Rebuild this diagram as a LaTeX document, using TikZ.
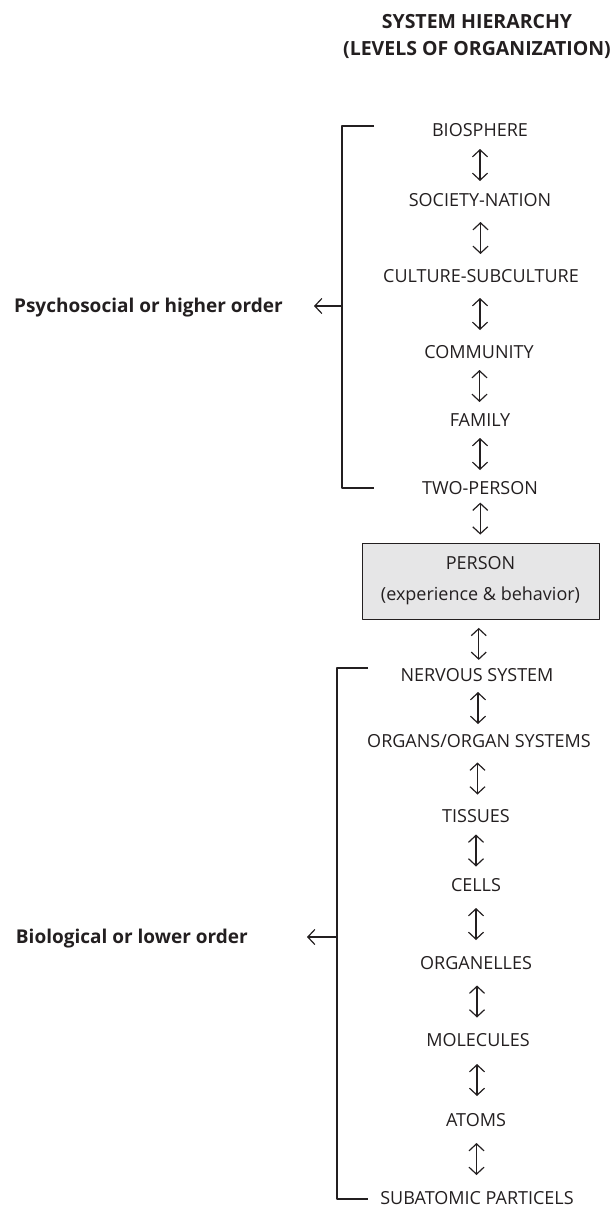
\documentclass[tikz,border=0pt]{standalone}
\usepackage{fontspec}
\setmainfont{Open Sans}
\usetikzlibrary{arrows.meta,calc}
\definecolor{ink}{HTML}{231F20}
\definecolor{boxgray}{HTML}{E6E6E7}
\begin{document}
\begin{tikzpicture}[x=1pt, y=-1pt, line join=round, ink,
	tier/.style={inner sep=0pt, text height=13pt, text depth=0pt, font=\fontsize{18}{22}\selectfont},
	sidelabel/.style={inner sep=0pt, anchor=east, text height=13.5pt, text depth=0pt, font=\bfseries\fontsize{19}{23}\selectfont},
	headline/.style={inner sep=0pt, text height=14pt, text depth=0pt, font=\bfseries\fontsize{19.5}{23}\selectfont},
	personbox/.style={draw, fill=boxgray, line width=1pt, minimum width=237pt, minimum height=76pt, align=center, inner sep=0pt, font=\fontsize{18}{31}\selectfont},
	updown/.style={{Straight Barb[length=7pt,width=15pt]}-{Straight Barb[length=7pt,width=15pt]}, line width=1.2pt,
		to path={($(\tikztostart.south)!0.5!(\tikztotarget.north)$) ++(0,-16) -- ++(0,32)}},
	bracket/.style={line width=1.6pt},
	sidearrow/.style={-{Straight Barb[length=7pt,width=15pt]}, line width=1.2pt}]
	\useasboundingbox (0,0) rectangle (614,1207);
	\node[headline] (head1) at (477,22) {SYSTEM HIERARCHY};
	\node[headline] (head2) at (477,49) {(LEVELS OF ORGANIZATION)};
	\node[tier] (bio) at (480,130) {BIOSPHERE};
	\node[tier] (soc) at (480,200) {SOCIETY-NATION};
	\node[tier] (cul) at (481,276) {CULTURE-SUBCULTURE};
	\node[tier] (com) at (479,352) {COMMUNITY};
	\node[tier] (fam) at (480,420) {FAMILY};
	\node[tier] (two) at (480,488) {TWO-PERSON};
	\node[personbox] (per) at (480.5,581) {PERSON\\(experience \& behavior)};
	\node[tier] (nerv) at (477,675) {NERVOUS SYSTEM};
	\node[tier] (org) at (479,741) {ORGANS/ORGAN SYSTEMS};
	\node[tier] (tis) at (476,816) {TISSUES};
	\node[tier] (cell) at (476,885) {CELLS};
	\node[tier] (orgl) at (476,963) {ORGANELLES};
	\node[tier] (mol) at (478,1040) {MOLECULES};
	\node[tier] (atom) at (476,1120) {ATOMS};
	\node[tier] (sub) at (477,1198) {SUBATOMIC PARTICELS};
	\foreach \a/\b in {bio/soc, soc/cul, cul/com, com/fam, fam/two, two/per, per/nerv, nerv/org, org/tis, tis/cell, cell/orgl, orgl/mol, mol/atom, atom/sub}
		\draw[updown] (\a) to (\b);
	\draw[bracket] (374,126) -- (342,126) -- (342,488) -- (374,488);
	\draw[bracket] (368,668) -- (337,668) -- (337,1199) -- (368,1199);
	\coordinate (highmid) at (342,306);
	\coordinate (lowmid) at (337,937);
	\node[sidelabel] (psycho) at (283,306) {Psychosocial or higher order};
	\node[sidelabel] (biolog) at (248,937) {Biological or lower order};
	\draw[sidearrow, shorten >=31pt] (highmid) -- (psycho);
	\draw[sidearrow, shorten >=59pt] (lowmid) -- (biolog);
\end{tikzpicture}
\end{document}
